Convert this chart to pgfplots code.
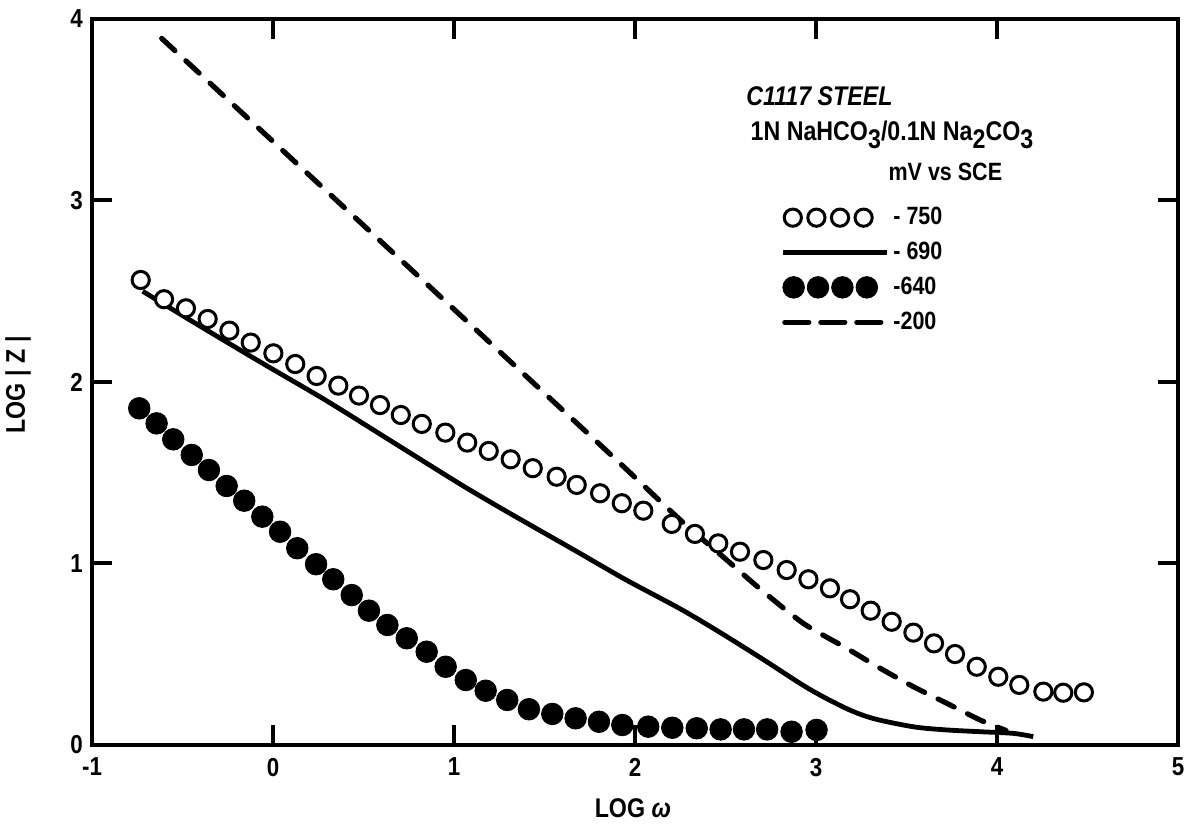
\documentclass[border=0pt]{standalone}
\usepackage{fontspec}
\setmainfont{Liberation Sans}[FakeStretch=0.86]
\usepackage{pgfplots}
\pgfplotsset{compat=1.18}
\usetikzlibrary{calc}

\newcommand{\sub}[1]{\raisebox{-0.55ex}{#1}}

\begin{document}
\begin{tikzpicture}
\begin{axis}[
    name=ax,
    scale only axis,
    width=543pt, height=363pt,
    xmin=-1, xmax=5, ymin=0, ymax=4,
    xtick={-1,0,1,2,3,4,5},
    ytick={0,1,2,3,4},
    tick align=inside,
    major tick length=10pt,
    axis line style={line width=2.4pt},
    every tick/.style={black, line width=2pt},
    xticklabel={\textbf{\pgfmathprintnumber[assume math mode=true]{\tick}}},
    yticklabel={\textbf{\pgfmathprintnumber[assume math mode=true]{\tick}}},
    tick label style={font=\fontsize{13}{13}\selectfont},
    xticklabel style={yshift=-3pt},
    yticklabel style={xshift=-1pt},
    xlabel={\textbf{LOG \textit{ω}}},
    ylabel={\textbf{LOG | Z |}},
    label style={font=\fontsize{13.5}{13.5}\selectfont},
    xlabel style={at={(axis description cs:0.498,-0.087)}, anchor=center},
    ylabel style={at={(axis description cs:-0.068,0.496)}, anchor=center},
    clip=false,
    legend style={at={(axis description cs:0.628,0.752)}, anchor=north west,
        draw=none, fill=none, row sep=3.2pt,
        font=\bfseries\fontsize{12.5}{12.5}\selectfont,
        cells={anchor=west}},
]

% -750 mV, open circles
\addplot[only marks, mark=*, mark size=4.3pt,
    mark options={fill=white, draw=black, line width=1.5pt},
    legend image code/.code={
        \foreach \k in {0,1,2,3}{\draw[line width=1.5pt, fill=white] (5pt+\k*11.8pt,0pt) circle (4.3pt);}
    }]
coordinates {
(-0.731,2.562) (-0.602,2.456) (-0.481,2.406) (-0.361,2.347) (-0.241,2.283)
(-0.123,2.217) (0.002,2.158) (0.123,2.099) (0.241,2.033) (0.361,1.980)
(0.475,1.925) (0.591,1.873) (0.706,1.818) (0.822,1.769) (0.952,1.721)
(1.073,1.666) (1.192,1.620) (1.313,1.574) (1.435,1.525) (1.567,1.478)
(1.678,1.433) (1.807,1.387) (1.927,1.332) (2.046,1.291) (2.203,1.218)
(2.331,1.163) (2.460,1.111) (2.580,1.065) (2.709,1.019) (2.838,0.964)
(2.958,0.913) (3.077,0.863) (3.188,0.803) (3.302,0.740) (3.418,0.679)
(3.538,0.619) (3.652,0.560) (3.768,0.501) (3.888,0.431) (4.007,0.376)
(4.123,0.331) (4.256,0.294) (4.366,0.288) (4.480,0.290)
};
\addlegendentry{- 750}

% -690 mV, solid line
\addplot[black, line width=2.4pt, smooth, tension=0.5,
    legend image code/.code={\draw[line width=2.4pt] (0pt,0pt) -- (52pt,0pt);}]
coordinates {
(-0.72,2.50) (-0.44,2.33) (-0.07,2.11) (0.29,1.90) (0.66,1.67)
(1.03,1.44) (1.25,1.31) (1.46,1.19) (1.68,1.065) (1.95,0.91)
(2.25,0.75) (2.47,0.62) (2.71,0.47) (2.96,0.31) (3.17,0.20)
(3.32,0.145) (3.54,0.100) (3.72,0.083) (3.91,0.073) (4.09,0.064) (4.20,0.046)
};
\addlegendentry{- 690}

% -640 mV, filled circles
\addplot[only marks, mark=*, mark size=5.4pt, mark options={fill=black, draw=black},
    legend image code/.code={
        \foreach \k in {0,1,2,3}{\fill (5.4pt+\k*12.2pt,0pt) circle (5.4pt);}
    }]
coordinates {
(-0.739,1.855) (-0.643,1.772) (-0.551,1.684) (-0.449,1.598) (-0.354,1.515)
(-0.256,1.427) (-0.159,1.346) (-0.059,1.258) (0.039,1.175) (0.134,1.084)
(0.238,0.996) (0.333,0.913) (0.435,0.826) (0.530,0.740) (0.632,0.661)
(0.739,0.588) (0.849,0.514) (0.954,0.431) (1.065,0.358) (1.175,0.299)
(1.294,0.248) (1.414,0.197) (1.543,0.171) (1.672,0.147) (1.801,0.128)
(1.930,0.110) (2.073,0.101) (2.206,0.095) (2.341,0.092) (2.473,0.086)
(2.602,0.086) (2.730,0.086) (2.865,0.073) (3.003,0.083)
};
\addlegendentry{-640}

% -200 mV, dashed line
\addplot[black, line width=2.6pt, line cap=round, dash pattern=on 9pt off 7.5pt,
    smooth, tension=0.4,
    legend image code/.code={\draw[line width=2.6pt, line cap=round, dash pattern=on 12pt off 6pt] (1pt,0pt) -- (52pt,0pt);}]
coordinates {
(-0.615,3.893) (0.0,3.325) (0.684,2.693) (1.30,2.123) (1.90,1.568)
(2.25,1.24) (2.506,1.02) (2.691,0.86)
(2.93,0.67) (3.169,0.533) (3.354,0.423) (3.538,0.321) (3.722,0.230)
(3.906,0.138) (4.05,0.080)
};
\addlegendentry{-200}

\node[anchor=west, font=\bfseries\itshape\fontsize{13.5}{13.5}\selectfont]
    at (axis description cs:0.596,0.893) {C1117 STEEL};
\node[anchor=west, font=\bfseries\fontsize{13.5}{13.5}\selectfont]
    at (axis description cs:0.600,0.840) {1N NaHCO\sub{3}/0.1N Na\sub{2}CO\sub{3}};
\node[anchor=west, font=\bfseries\fontsize{12.5}{12.5}\selectfont]
    at (axis description cs:0.727,0.789) {mV vs SCE};
\end{axis}
\pgfresetboundingbox
\path[use as bounding box] ($(ax.south west)+(-46pt,-40pt)$) rectangle ($(ax.north east)+(7pt,9.5pt)$);
\end{tikzpicture}
\end{document}
